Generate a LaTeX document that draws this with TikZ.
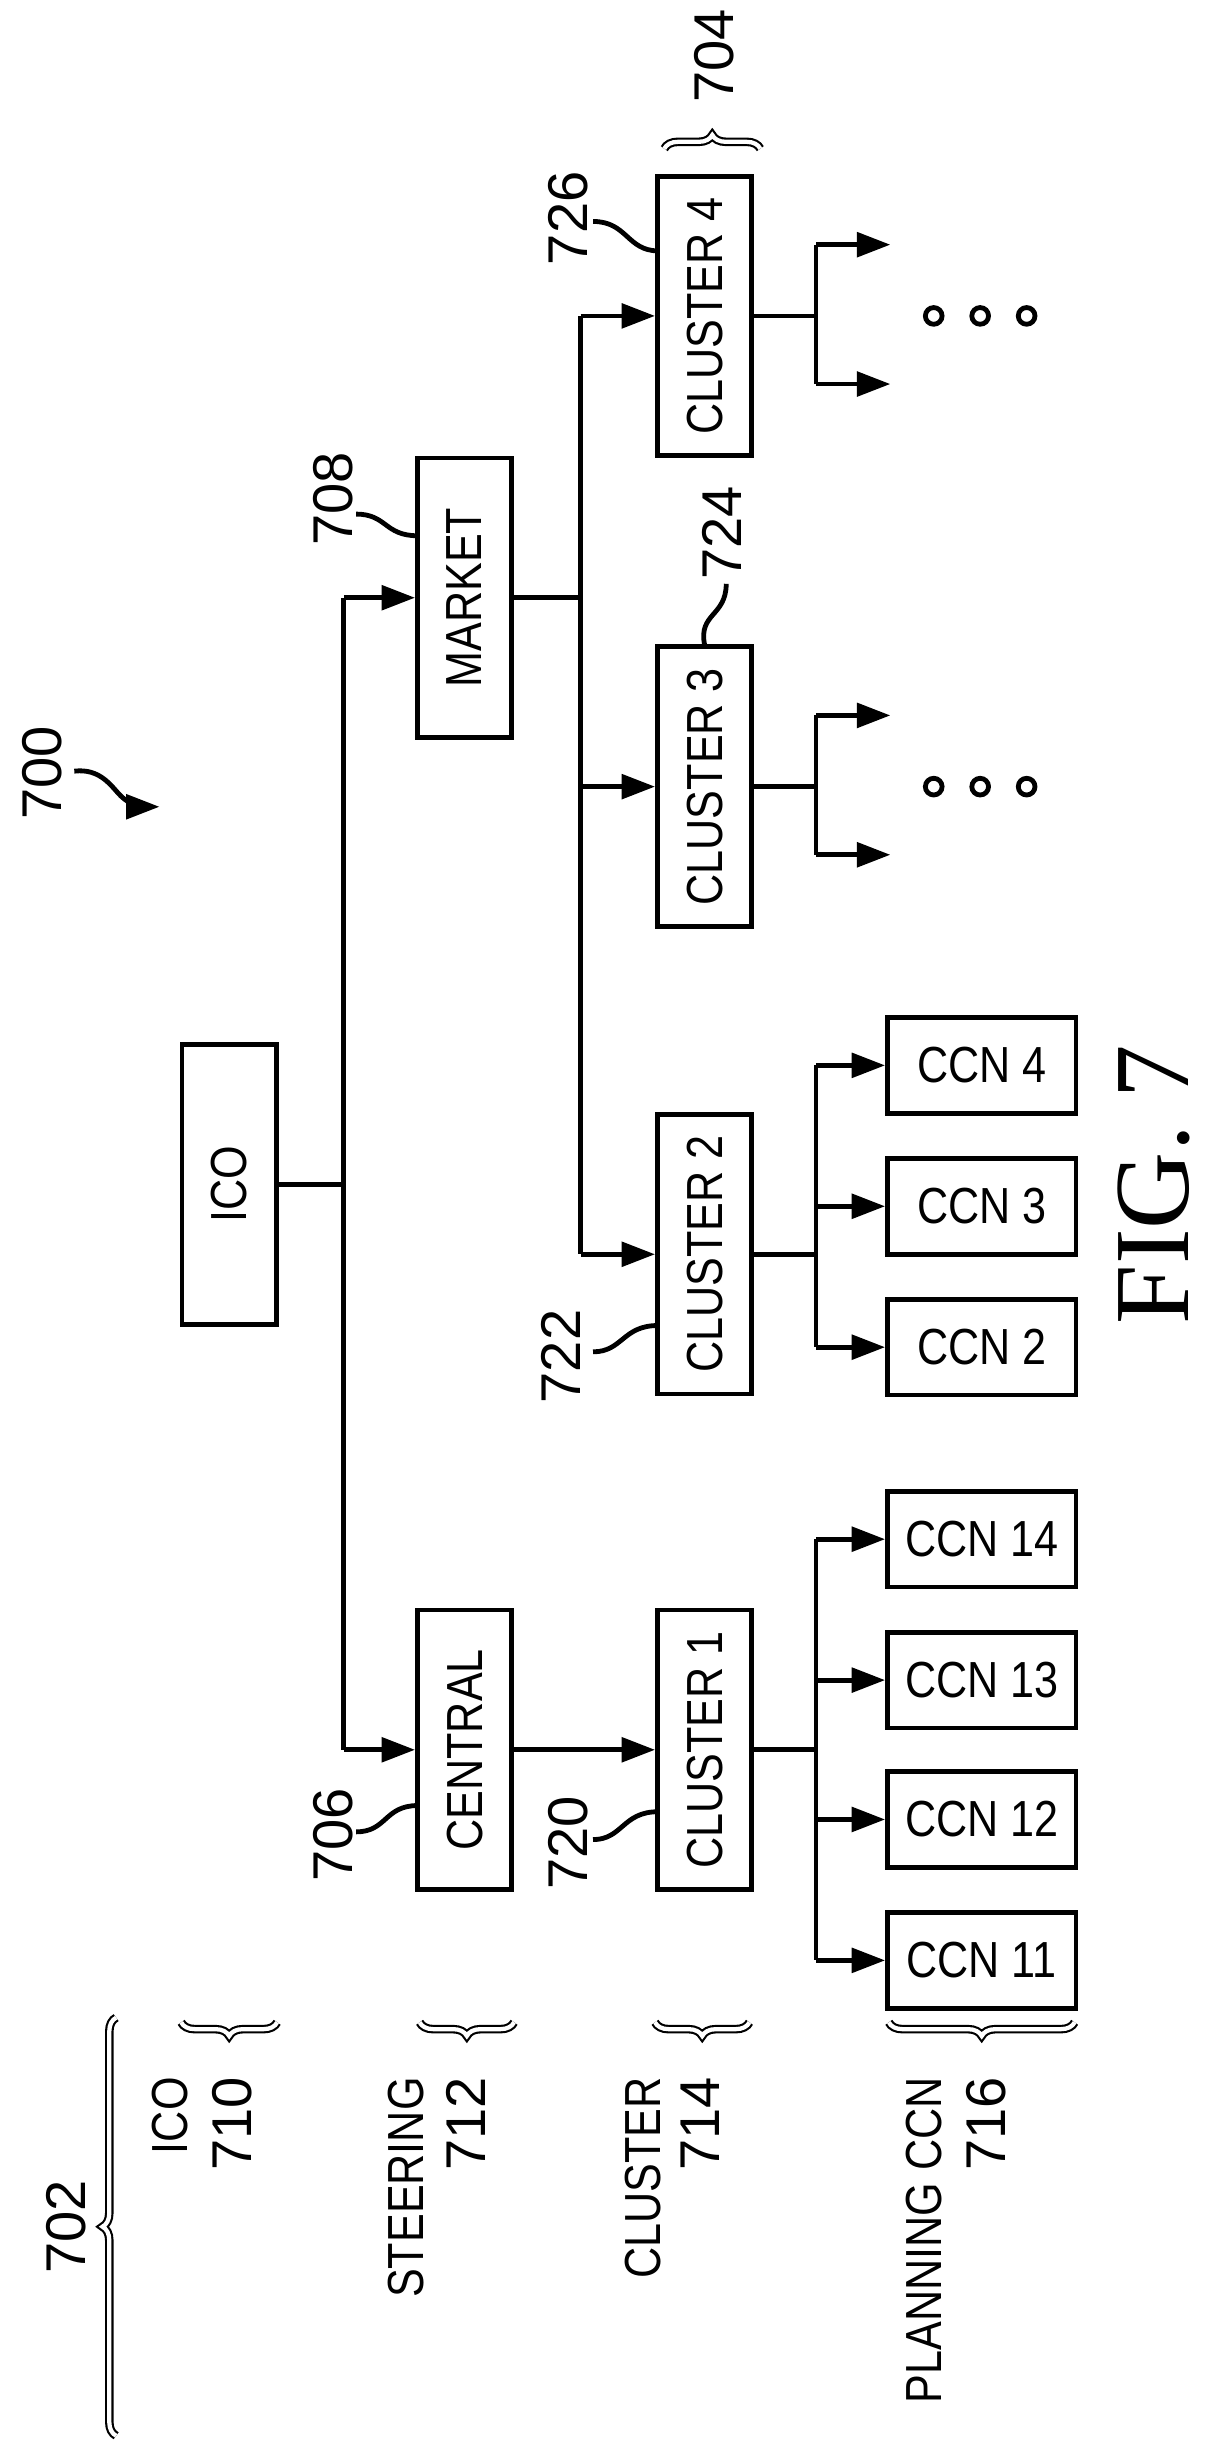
\documentclass[tikz,border=0pt]{standalone}
\usepackage{fontspec}
\setmainfont{Liberation Sans}
\newfontfamily\narrow[FakeStretch=0.85]{Liberation Sans}
\newfontfamily\figfont{Liberation Serif}
\usetikzlibrary{arrows.meta,decorations.pathreplacing}
\begin{document}
\begin{tikzpicture}[x=0.0102cm,y=-0.0102cm,line width=0.9pt,
  box/.style={draw,rotate=90,minimum width=1.84cm,minimum height=0.62cm,inner sep=0pt,font=\narrow\fontsize{9.5}{11}\selectfont},
  ccn/.style={draw,minimum width=1.24cm,minimum height=0.63cm,inner sep=0pt,font=\narrow\fontsize{9.5}{11}\selectfont},
  num/.style={rotate=90,inner sep=0pt,font=\fontsize{10.5}{12}\selectfont},
  lvl/.style={rotate=90,inner sep=0pt,anchor=east,font=\narrow\fontsize{9.5}{11}\selectfont},
  arr/.style={-{Triangle[length=2.2mm,width=1.6mm]}},
  brc/.style={decorate,decoration={brace,amplitude=0.09cm},double,line width=0.4pt,double distance=0.8pt},
  dot/.style={draw,circle,line width=0.9pt,inner sep=0pt,minimum size=0.11cm}]
  \fill[white] (0,0) rectangle (784.3,1568.6);

  % boxes
  \node[box] (ico) at (148,765) {ICO};
  \node[box] (market) at (300,386) {MARKET};
  \node[box] (central) at (300,1130) {CENTRAL};
  \node[box] (cl1) at (455,1130) {CLUSTER 1};
  \node[box] (cl2) at (455,810) {CLUSTER 2};
  \node[box] (cl3) at (455,508) {CLUSTER 3};
  \node[box] (cl4) at (455,204) {CLUSTER 4};
  \node[ccn] (ccn14) at (634,994) {CCN 14};
  \node[ccn] (ccn13) at (634,1085) {CCN 13};
  \node[ccn] (ccn12) at (634,1175) {CCN 12};
  \node[ccn] (ccn11) at (634,1266) {CCN 11};
  \node[ccn] (ccn4) at (634,688) {CCN 4};
  \node[ccn] (ccn3) at (634,779) {CCN 3};
  \node[ccn] (ccn2) at (634,870) {CCN 2};

  % junctions
  \coordinate (j0) at (222,765);
  \coordinate (j1) at (375,386);
  \coordinate (j2) at (527,1130);
  \coordinate (j3) at (527,810);
  \coordinate (j4) at (527,508);
  \coordinate (j5) at (527,204);
  \coordinate (t3a) at (575,462);
  \coordinate (t3b) at (575,552);
  \coordinate (t4a) at (575,158);
  \coordinate (t4b) at (575,248);

  \draw (ico) -- (j0);
  \draw (j0 |- market) -- (j0 |- central);
  \draw[arr] (j0 |- market) -- (market);
  \draw[arr] (j0 |- central) -- (central);
  \draw[arr] (central) -- (cl1);
  \draw (market) -- (j1);
  \draw (j1 |- cl4) -- (j1 |- cl2);
  \foreach \c in {cl2,cl3,cl4} \draw[arr] (j1 |- \c) -- (\c);
  \draw (cl1) -- (j2);
  \draw (j2 |- ccn14) -- (j2 |- ccn11);
  \foreach \c in {ccn11,ccn12,ccn13,ccn14} \draw[arr] (j2 |- \c) -- (\c);
  \draw (cl2) -- (j3);
  \draw (j3 |- ccn4) -- (j3 |- ccn2);
  \foreach \c in {ccn2,ccn3,ccn4} \draw[arr] (j3 |- \c) -- (\c);
  \draw (cl3) -- (j4);
  \draw (j4 |- t3a) -- (j4 |- t3b);
  \draw[arr] (j4 |- t3a) -- (t3a);
  \draw[arr] (j4 |- t3b) -- (t3b);
  \draw (cl4) -- (j5);
  \draw (j5 |- t4a) -- (j5 |- t4b);
  \draw[arr] (j5 |- t4a) -- (t4a);
  \draw[arr] (j5 |- t4b) -- (t4b);
  \foreach \y/\n in {508/a,204/b} \foreach \x/\m in {603/1,633/2,663/3}
    \node[dot] (d\n\m) at (\x,\y) {};

  % reference numerals
  \node[num] (n700) at (27,499) {700};
  \draw[arr] (48,498) .. controls (65,496) and (72,508) .. (78,514) .. controls (84,520) and (92,521) .. (103,521);
  \node[num] (n708) at (215,322) {708};
  \draw (230,332) .. controls (250,332) and (248,346) .. (270,346);
  \node[num] (n706) at (215,1185) {706};
  \draw (230,1183) .. controls (250,1183) and (248,1166) .. (270,1166);
  \node[num] (n720) at (367,1190) {720};
  \draw (383,1188) .. controls (402,1188) and (402,1170) .. (425,1170);
  \node[num] (n722) at (362,876) {722};
  \draw (383,873) .. controls (402,873) and (402,856) .. (425,856);
  \node[num] (n724) at (466,344) {724};
  \draw (469,377) .. controls (469,398) and (451,396) .. (cl3.east);
  \node[num] (n726) at (367,141) {726};
  \draw (383,143) .. controls (405,143) and (405,162) .. (425,162);
  \draw[brc] (429,96) -- (491,96);
  \node[num,anchor=west] (n704) at (461,68) {704};

  % level labels
  \draw[brc] (75,1573) -- (75,1303);
  \node[num] (n702) at (43,1438) {702};
  \node[lvl] (lico) at (110,1340) {ICO};
  \node[num,anchor=east] (n710) at (150,1340) {710};
  \draw[brc] (179,1306) -- (117,1306);
  \node[lvl] (lste) at (262,1340) {STEERING};
  \node[num,anchor=east] (n712) at (301,1340) {712};
  \draw[brc] (332,1306) -- (271,1306);
  \node[lvl] (lclu) at (415,1340) {CLUSTER};
  \node[num,anchor=east] (n714) at (452,1340) {714};
  \draw[brc] (484,1306) -- (423,1306);
  \node[lvl] (lpla) at (597,1340) {PLANNING CCN};
  \node[num,anchor=east] (n716) at (637,1340) {716};
  \draw[brc] (694,1306) -- (574,1306);

  \node[rotate=90,font=\figfont\fontsize{20}{22}\selectfont] (fig) at (745,765) {FIG. 7};
\end{tikzpicture}
\end{document}
